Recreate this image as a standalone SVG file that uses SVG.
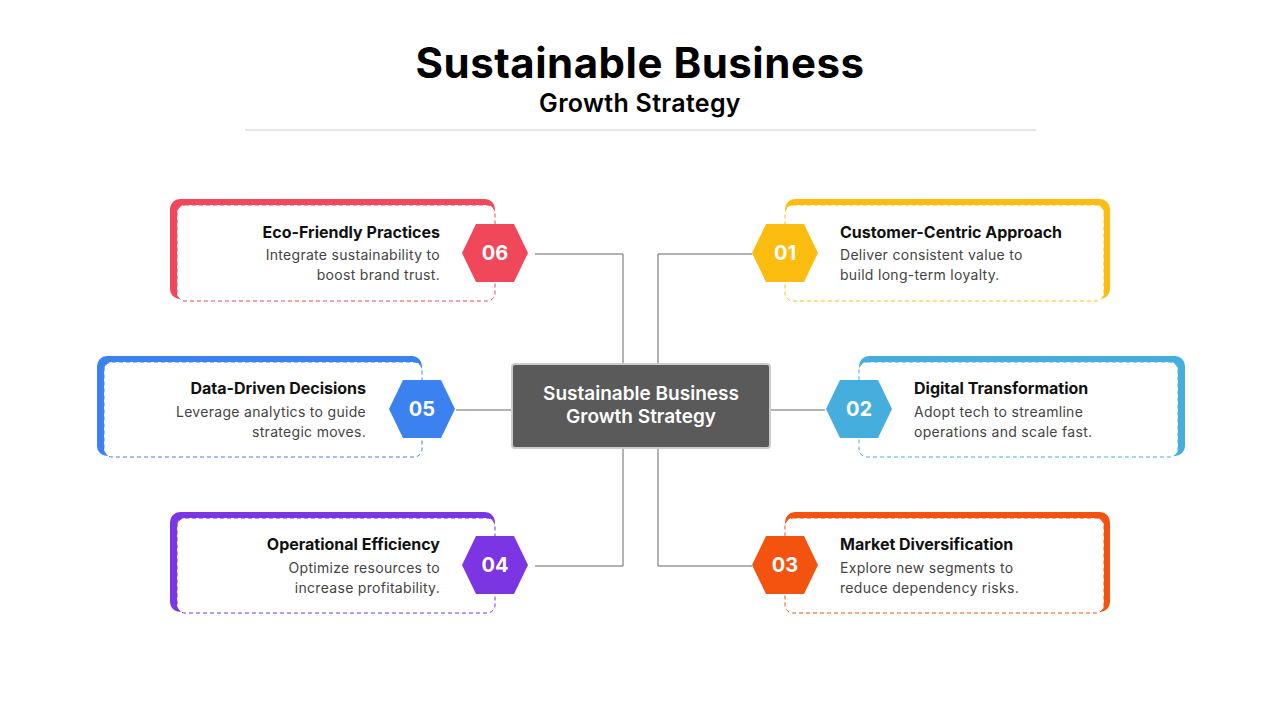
<svg xmlns="http://www.w3.org/2000/svg" width="1280" height="720" viewBox="0 0 1280 720">
<style>
text{font-family:Inter,"Open Sans","Liberation Sans",sans-serif}
.t{font-size:16px;font-weight:700;fill:#111}
.d{font-size:14px;fill:#444;letter-spacing:0.3px}
.n{font-size:20px;font-weight:700;fill:#fff;text-anchor:middle}
.card{fill:#fff;stroke-width:1;stroke-dasharray:4 3}
.c{fill:none;stroke:#666;stroke-width:1}
.r{text-anchor:end}
</style>
<rect width="1280" height="720" fill="#fff"/>
<text x="640" y="78" text-anchor="middle" font-size="42" font-weight="700" fill="#000" letter-spacing="0.5">Sustainable Business</text>
<text x="640" y="112" text-anchor="middle" font-size="25" font-weight="600" fill="#000" letter-spacing="0.3">Growth Strategy</text>
<line x1="245" y1="130" x2="1036" y2="130" stroke="#ccc"/>
<g id="connectors">
<polyline class="c" points="535,254 623,254 623,566 535,566"/>
<polyline class="c" points="752,254 658,254 658,566 752,566"/>
<line class="c" x1="456" y1="410" x2="512" y2="410"/>
<line class="c" x1="770" y1="410" x2="825" y2="410"/>
</g>
<g id="center">
<rect x="512" y="364" width="258" height="84" rx="3" fill="#5A5A5A" stroke="#ccc" stroke-width="2"/>
<text x="641" y="400" text-anchor="middle" font-size="19" font-weight="600" fill="#fff">Sustainable Business</text>
<text x="641" y="423" text-anchor="middle" font-size="19" font-weight="600" fill="#fff">Growth Strategy</text>
</g>
<g id="n06">
<rect x="170" y="199" width="325" height="100" rx="10" fill="#F0475A"/>
<rect class="card" x="177" y="205" width="318" height="96" rx="8" stroke="#F0475A"/>
<polygon points="462,253 476,224 514,224 528,253 514,282 476,282" fill="#F0475A"/>
<text class="n" x="495" y="260">06</text>
<text class="t r" x="440" y="238">Eco-Friendly Practices</text>
<text class="d r" x="440" y="260">Integrate sustainability to</text>
<text class="d r" x="440" y="280">boost brand trust.</text>
</g>
<g id="n05">
<rect x="97" y="356" width="325" height="100" rx="10" fill="#3B82F0"/>
<rect class="card" x="104" y="362" width="318" height="95" rx="8" stroke="#3B82F0"/>
<polygon points="389,409 403,380 441,380 455,409 441,438 403,438" fill="#3B82F0"/>
<text class="n" x="422" y="416">05</text>
<text class="t r" x="366" y="394">Data-Driven Decisions</text>
<text class="d r" x="366" y="417">Leverage analytics to guide</text>
<text class="d r" x="366" y="437">strategic moves.</text>
</g>
<g id="n04">
<rect x="170" y="512" width="325" height="100" rx="10" fill="#7B35E2"/>
<rect class="card" x="177" y="518" width="318" height="95" rx="8" stroke="#7B35E2"/>
<polygon points="462,565 476,536 514,536 528,565 514,594 476,594" fill="#7B35E2"/>
<text class="n" x="495" y="572">04</text>
<text class="t r" x="440" y="550">Operational Efficiency</text>
<text class="d r" x="440" y="573">Optimize resources to</text>
<text class="d r" x="440" y="593">increase profitability.</text>
</g>
<g id="n01">
<rect x="785" y="199" width="325" height="100" rx="10" fill="#FDBD10"/>
<rect class="card" x="785" y="205" width="319" height="96" rx="8" stroke="#FDBD10"/>
<polygon points="752,253 766,224 804,224 818,253 804,282 766,282" fill="#FDBD10"/>
<text class="n" x="785" y="260">01</text>
<text class="t" x="840" y="238">Customer-Centric Approach</text>
<text class="d" x="840" y="260">Deliver consistent value to</text>
<text class="d" x="840" y="280">build long-term loyalty.</text>
</g>
<g id="n02">
<rect x="859" y="356" width="326" height="100" rx="10" fill="#45AEDC"/>
<rect class="card" x="859" y="362" width="319" height="95" rx="8" stroke="#45AEDC"/>
<polygon points="826,409 840,380 878,380 892,409 878,438 840,438" fill="#45AEDC"/>
<text class="n" x="859" y="416">02</text>
<text class="t" x="914" y="394">Digital Transformation</text>
<text class="d" x="914" y="417">Adopt tech to streamline</text>
<text class="d" x="914" y="437">operations and scale fast.</text>
</g>
<g id="n03">
<rect x="785" y="512" width="325" height="100" rx="10" fill="#F4530F"/>
<rect class="card" x="785" y="518" width="319" height="95" rx="8" stroke="#F4530F"/>
<polygon points="752,565 766,536 804,536 818,565 804,594 766,594" fill="#F4530F"/>
<text class="n" x="785" y="572">03</text>
<text class="t" x="840" y="550">Market Diversification</text>
<text class="d" x="840" y="573">Explore new segments to</text>
<text class="d" x="840" y="593">reduce dependency risks.</text>
</g>
</svg>
